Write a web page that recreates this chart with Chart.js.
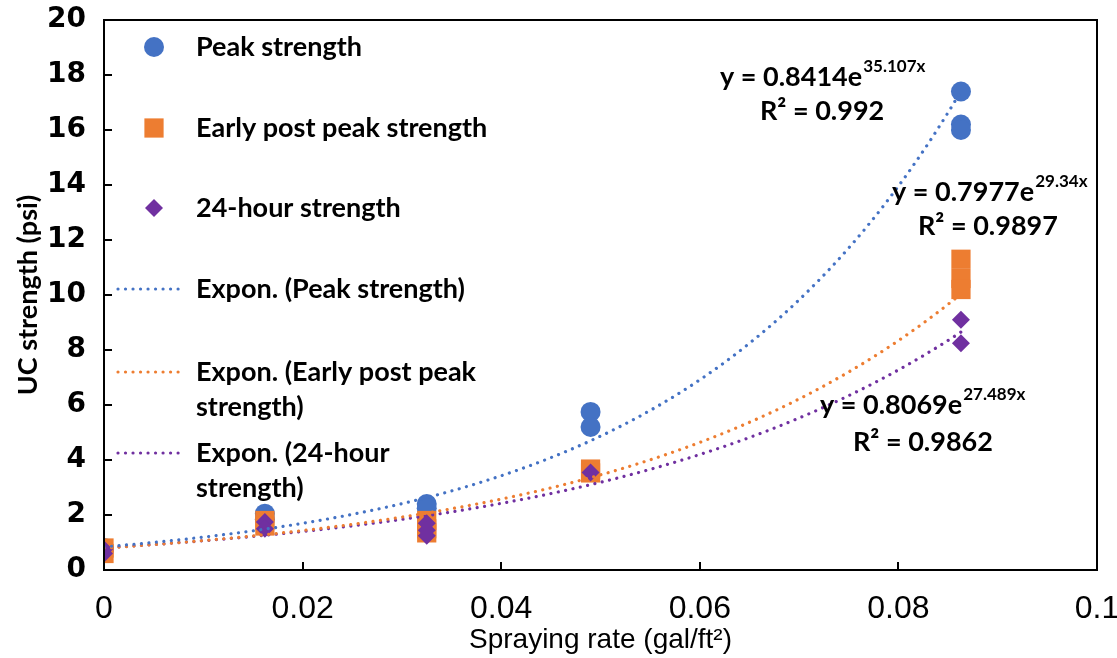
<!DOCTYPE html>
<html>
<head>
<meta charset="utf-8">
<script src="https://cdn.jsdelivr.net/npm/chart.js@4.4.1/dist/chart.umd.min.js"></script>
<style>
  html, body { margin: 0; padding: 0; background: #fff; }
  #wrap { width: 1117px; height: 658px; }
</style>
</head>
<body>
<div id="wrap"><canvas id="ucChart" width="1117" height="658"></canvas></div>
<script>
// Spraying rate (gal/ft2) vs UC strength (psi), one pair of arrays per series
const peakRate      = [0, 0, 0.0162, 0.0162, 0.0325, 0.0325, 0.049, 0.049, 0.0863, 0.0863, 0.0863];
const peakStrength  = [0.8, 0.75, 2.05, 1.85, 2.4, 2.25, 5.75, 5.2, 17.4, 16.2, 16.0];

const earlyRate     = [0, 0, 0.0162, 0.0162, 0.0325, 0.0325, 0.0325, 0.049, 0.049, 0.0863, 0.0863, 0.0863];
const earlyStrength = [0.8, 0.6, 1.8, 1.6, 1.8, 1.5, 1.35, 3.67, 3.53, 11.3, 10.6, 10.2];

const dayRate       = [0, 0, 0.0162, 0.0162, 0.0325, 0.0325, 0.0325, 0.049, 0.0863, 0.0863];
const dayStrength   = [0.75, 0.6, 1.75, 1.5, 1.7, 1.45, 1.25, 3.55, 9.1, 8.25];

// Exponential fits y = a * e^(b x)
const peakFit  = { a: 0.8414, b: 35.107, r2: '0.992' };
const earlyFit = { a: 0.7977, b: 29.34, r2: '0.9897' };
const dayFit   = { a: 0.8069, b: 27.489, r2: '0.9862' };

const xTicks = [0, 0.02, 0.04, 0.06, 0.08, 0.1];
const yTicks = [0, 2, 4, 6, 8, 10, 12, 14, 16, 18, 20];

const BLUE = '#4472C4';
const ORANGE = '#ED7D31';
const PURPLE = '#7030A0';
const BOLD = 'bold 27px Lato, "Open Sans", sans-serif';

function zip(xs, ys) {
  return xs.map((x, i) => ({ x: x, y: ys[i] }));
}

// trendline over the measured range
function fitCurve(fit, xs) {
  const lo = Math.min(...xs), hi = Math.max(...xs);
  const pts = [];
  const n = 80;
  for (let i = 0; i <= n; i++) {
    const x = lo + (hi - lo) * i / n;
    pts.push({ x: x, y: fit.a * Math.exp(fit.b * x) });
  }
  return pts;
}

function trendDataset(label, fit, xs, color) {
  return {
    type: 'line',
    label: label,
    data: fitCurve(fit, xs),
    borderColor: color,
    borderWidth: 3.2,
    borderDash: [0.01, 7.5],
    borderCapStyle: 'round',
    pointRadius: 0,
    fill: false,
    tension: 0,
    order: 0,
  };
}

// plot frame plus inward tick marks
const framePlugin = {
  id: 'frame',
  afterDatasetsDraw(chart) {
    const { ctx, chartArea: a, scales } = chart;
    ctx.save();
    ctx.strokeStyle = '#000';
    ctx.lineWidth = 2;
    ctx.strokeRect(a.left, a.top, a.right - a.left, a.bottom - a.top);
    ctx.beginPath();
    xTicks.forEach(v => {
      const px = Math.round(scales.x.getPixelForValue(v));
      ctx.moveTo(px, a.bottom);
      ctx.lineTo(px, a.bottom - 8);
    });
    yTicks.forEach(v => {
      const py = Math.round(scales.y.getPixelForValue(v));
      ctx.moveTo(a.left, py);
      ctx.lineTo(a.left + 8, py);
    });
    ctx.stroke();
    ctx.restore();
  }
};

// legend drawn inside the plot, left side
const legendEntries = [
  { kind: 'point', style: 'circle', radius: 10, color: BLUE, lines: ['Peak strength'], y: 47 },
  { kind: 'point', style: 'rect', radius: 13.6, color: ORANGE, lines: ['Early post peak strength'], y: 128 },
  { kind: 'point', style: 'rectRot', radius: 9, color: PURPLE, lines: ['24-hour strength'], y: 208 },
  { kind: 'line', color: BLUE, lines: ['Expon. (Peak strength)'], y: 289 },
  { kind: 'line', color: ORANGE, lines: ['Expon. (Early post peak', 'strength)'], y: 372 },
  { kind: 'line', color: PURPLE, lines: ['Expon. (24-hour', 'strength)'], y: 453 },
];

const legendPlugin = {
  id: 'insideLegend',
  afterDraw(chart) {
    const ctx = chart.ctx;
    ctx.save();
    legendEntries.forEach(e => {
      if (e.kind === 'point') {
        ctx.fillStyle = e.color;
        ctx.strokeStyle = e.color;
        Chart.helpers.drawPoint(ctx, { pointStyle: e.style, radius: e.radius, rotation: 0, borderWidth: 0 }, 154, e.y);
      } else {
        ctx.strokeStyle = e.color;
        ctx.lineWidth = 3.2;
        ctx.lineCap = 'round';
        ctx.setLineDash([0.01, 7.5]);
        ctx.beginPath();
        ctx.moveTo(118, e.y);
        ctx.lineTo(184, e.y);
        ctx.stroke();
        ctx.setLineDash([]);
      }
      ctx.fillStyle = '#000';
      ctx.font = BOLD;
      ctx.textAlign = 'left';
      ctx.textBaseline = 'middle';
      e.lines.forEach((t, i) => ctx.fillText(t, 196, e.y + i * 35));
    });
    ctx.restore();
  }
};

// fit equations with superscript exponents
const equationLabels = [
  { fit: peakFit, x: 720, y: 77, rx: 760, ry: 111 },
  { fit: earlyFit, x: 892, y: 192, rx: 918, ry: 226 },
  { fit: dayFit, x: 820, y: 405, rx: 853, ry: 442 },
];

const equationPlugin = {
  id: 'equations',
  afterDraw(chart) {
    const ctx = chart.ctx;
    ctx.save();
    ctx.fillStyle = '#000';
    ctx.textAlign = 'left';
    ctx.textBaseline = 'middle';
    equationLabels.forEach(l => {
      const main = 'y = ' + l.fit.a.toFixed(4) + 'e';
      ctx.font = BOLD;
      ctx.fillText(main, l.x, l.y);
      const w = ctx.measureText(main).width;
      ctx.font = 'bold 17px Lato, "Open Sans", sans-serif';
      ctx.fillText(l.fit.b + 'x', l.x + w + 1, l.y - 10);
      ctx.font = BOLD;
      ctx.fillText('R\u00B2 = ' + l.fit.r2, l.rx, l.ry);
    });
    ctx.restore();
  }
};

const ctx = document.getElementById('ucChart');

new Chart(ctx, {
  type: 'scatter',
  data: {
    datasets: [
      {
        label: 'Peak strength',
        data: zip(peakRate, peakStrength),
        backgroundColor: BLUE,
        borderColor: BLUE,
        pointStyle: 'circle',
        pointRadius: 10,
        borderWidth: 0,
        order: 3,
      },
      {
        label: 'Early post peak strength',
        data: zip(earlyRate, earlyStrength),
        backgroundColor: ORANGE,
        borderColor: ORANGE,
        pointStyle: 'rect',
        pointRadius: 13.6,
        borderWidth: 0,
        order: 2,
      },
      {
        label: '24-hour strength',
        data: zip(dayRate, dayStrength),
        backgroundColor: PURPLE,
        borderColor: PURPLE,
        pointStyle: 'rectRot',
        pointRadius: 9,
        borderWidth: 0,
        order: 1,
      },
      trendDataset('Expon. (Peak strength)', peakFit, peakRate, BLUE),
      trendDataset('Expon. (Early post peak strength)', earlyFit, earlyRate, ORANGE),
      trendDataset('Expon. (24-hour strength)', dayFit, dayRate, PURPLE),
    ],
  },
  options: {
    responsive: false,
    animation: false,
    layout: { padding: { left: 0, top: 20, right: 20, bottom: 0 } },
    plugins: {
      legend: { display: false },
      tooltip: { enabled: false },
    },
    scales: {
      x: {
        type: 'linear',
        min: 0,
        max: 0.1,
        afterFit(scale) {
          scale.height = 88;
          scale.paddingLeft = 0;
          scale.paddingRight = 0;
        },
        afterBuildTicks(scale) { scale.ticks = xTicks.map(v => ({ value: v })); },
        grid: { display: false, drawTicks: false },
        border: { display: false },
        ticks: {
          padding: 20,
          color: '#000',
          font: { family: '"Liberation Sans Narrow", sans-serif', size: 32 },
          callback: v => String(parseFloat(v.toFixed(2))),
        },
        title: {
          display: true,
          text: 'Spraying rate (gal/ft\u00B2)',
          color: '#000',
          font: { family: '"Liberation Sans Narrow", sans-serif', size: 28 },
          padding: { top: 0, bottom: 1 },
        },
      },
      y: {
        type: 'linear',
        min: 0,
        max: 20,
        afterFit(scale) {
          scale.width = 104;
          scale.paddingTop = 0;
          scale.paddingBottom = 0;
        },
        afterBuildTicks(scale) { scale.ticks = yTicks.map(v => ({ value: v })); },
        grid: { display: false, drawTicks: false },
        border: { display: false },
        ticks: {
          padding: 18,
          color: '#000',
          font: { family: '"DejaVu Sans", sans-serif', size: 28, weight: 'bold' },
        },
        title: {
          display: true,
          text: 'UC strength (psi)',
          color: '#000',
          font: { family: 'Lato, "Open Sans", sans-serif', size: 27, weight: 'bold' },
          padding: { top: 12, bottom: 0 },
        },
      },
    },
  },
  plugins: [framePlugin, legendPlugin, equationPlugin],
});
</script>
</body>
</html>
